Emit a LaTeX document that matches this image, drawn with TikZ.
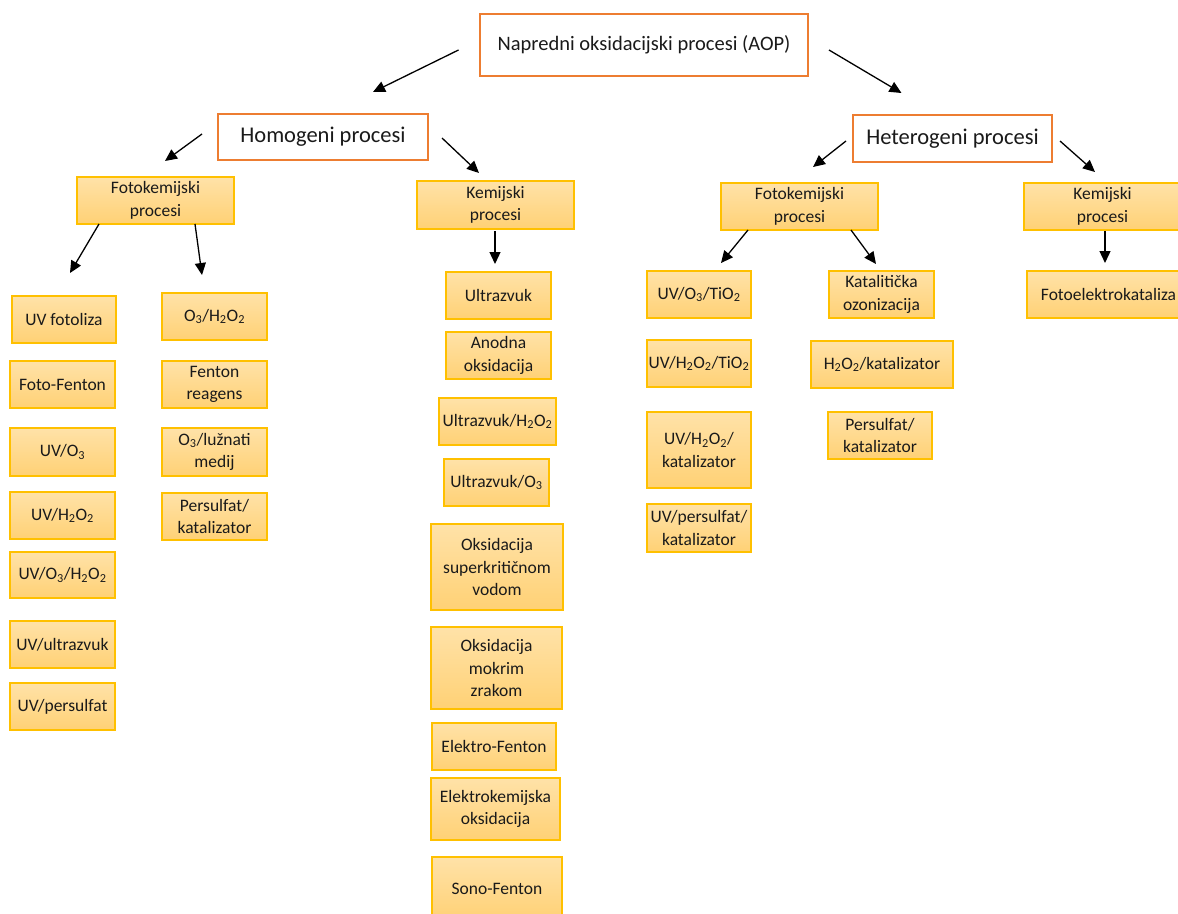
\documentclass[tikz,border=0pt]{standalone}
\usepackage{fontspec}
\setmainfont{Carlito}
\usetikzlibrary{arrows.meta}
\definecolor{orng}{HTML}{ED7D31}
\definecolor{yborder}{HTML}{FFC000}
\definecolor{ytop}{HTML}{FFE2A8}
\definecolor{ybot}{HTML}{FFD175}
\definecolor{txt}{HTML}{1A1A1A}
\tikzset{
  ybox/.style={draw=yborder, line width=1.4pt, top color=ytop, bottom color=ybot,
    inner sep=0pt, align=center, text=txt, font=\fontsize{17.5}{22.5}\selectfont},
  obox/.style={draw=orng, line width=2.6pt, fill=white, inner sep=0pt, text=txt},
  arr/.style={-{Triangle[length=12pt,width=11pt]}, line width=1.3pt, black}
}
\newcommand\yb[6]{\node[ybox, minimum width={#4pt-#2pt}, minimum height={#5pt-#3pt}] (#1) at ({(#2+#4)/2},{(#3+#5)/2}) {#6};}
\newcommand\ob[7]{\node[obox, minimum width={#4pt-#2pt}, minimum height={#5pt-#3pt}, font=\fontsize{#7}{#7}\selectfont] (#1) at ({(#2+#4)/2},{(#3+#5)/2}) {#6};}
\newcommand\ar[3]{\coordinate (#1s) at (#2); \coordinate (#1e) at (#3); \draw[arr] (#1s) -- (#1e);}
\begin{document}
\begin{tikzpicture}[x=1pt,y=-1pt]
\useasboundingbox (0,0) rectangle (1178,913);
% top level
\ob{aop}{480}{14}{808}{76}{Napredni oksidacijski procesi (AOP)}{20.5}
\ob{hom}{218}{114}{428}{160}{Homogeni procesi}{22.5}
\ob{het}{853}{115}{1052}{162}{Heterogeni procesi}{22.5}
% second level
\yb{fkL}{77}{177}{234}{224}{Fotokemijski\\procesi}
\yb{kemM}{417}{181}{574}{229}{Kemijski\\procesi}
\yb{fkR}{721}{183}{878}{230}{Fotokemijski\\procesi}
\yb{kemR}{1024}{183}{1181}{230}{Kemijski\\procesi}
% left column 1
\yb{l1}{12}{296}{116}{343}{UV fotoliza}
\yb{l2}{10}{361}{115}{408}{Foto-Fenton}
\yb{l3}{10}{428}{115}{476}{UV/O\textsubscript{3}}
\yb{l4}{10}{492}{115}{539}{UV/H\textsubscript{2}O\textsubscript{2}}
\yb{l5}{10}{552}{115}{598}{UV/O\textsubscript{3}/H\textsubscript{2}O\textsubscript{2}}
\yb{l6}{10}{621}{115}{668}{UV/ultrazvuk}
\yb{l7}{10}{683}{115}{730}{UV/persulfat}
% left column 2
\yb{m1}{162}{293}{267}{340}{O\textsubscript{3}/H\textsubscript{2}O\textsubscript{2}}
\yb{m2}{162}{361}{267}{408}{Fenton\\reagens}
\yb{m3}{162}{428}{267}{476}{O\textsubscript{3}/lužnati\\medij}
\yb{m4}{162}{493}{267}{540}{Persulfat/\\katalizator}
% middle column
\yb{k1}{446}{272}{551}{319}{Ultrazvuk}
\yb{k2}{446}{332}{551}{379}{Anodna\\oksidacija}
\yb{k3}{439}{398}{556}{445}{Ultrazvuk/H\textsubscript{2}O\textsubscript{2}}
\yb{k4}{444}{459}{549}{506}{Ultrazvuk/O\textsubscript{3}}
\yb{k5}{431}{524}{563}{610}{Oksidacija\\superkritičnom\\vodom}
\yb{k6}{431}{627}{562}{709}{Oksidacija\\mokrim\\zrakom}
\yb{k7}{432}{723}{556}{770}{Elektro-Fenton}
\yb{k8}{431}{778}{560}{840}{Elektrokemijska\\oksidacija}
\yb{k9}{432}{857}{562}{920}{Sono-Fenton}
% right columns
\yb{r1}{647}{271}{751}{318}{UV/O\textsubscript{3}/TiO\textsubscript{2}}
\yb{r2}{647}{340}{751}{387}{UV/H\textsubscript{2}O\textsubscript{2}/TiO\textsubscript{2}}
\yb{r3}{647}{412}{751}{488}{UV/H\textsubscript{2}O\textsubscript{2}/\\katalizator}
\yb{r4}{647}{504}{751}{552}{UV/persulfat/\\katalizator}
\yb{s1}{829}{271}{934}{318}{Katalitička\\ozonizacija}
\yb{s2}{811}{341}{953}{388}{H\textsubscript{2}O\textsubscript{2}/katalizator}
\yb{s3}{828}{412}{932}{459}{Persulfat/\\katalizator}
\yb{fe}{1027}{271}{1190}{318}{Fotoelektrokataliza}
% arrows
\ar{a1}{458.5,50}{373,92}
\ar{a2}{829,50}{901.5,93}
\ar{a3}{202,134}{165,161}
\ar{a4}{442,138}{479,173}
\ar{a5}{846,141}{813,167}
\ar{a6}{1060,141}{1095,172}
\ar{a7}{99,224}{70,273}
\ar{a8}{195,224}{202,275}
\ar{a9}{495,231}{495,264}
\ar{a10}{748,230}{721,263}
\ar{a11}{851,230}{876,264}
\ar{a12}{1105,231}{1105,263}
\end{tikzpicture}
\end{document}
